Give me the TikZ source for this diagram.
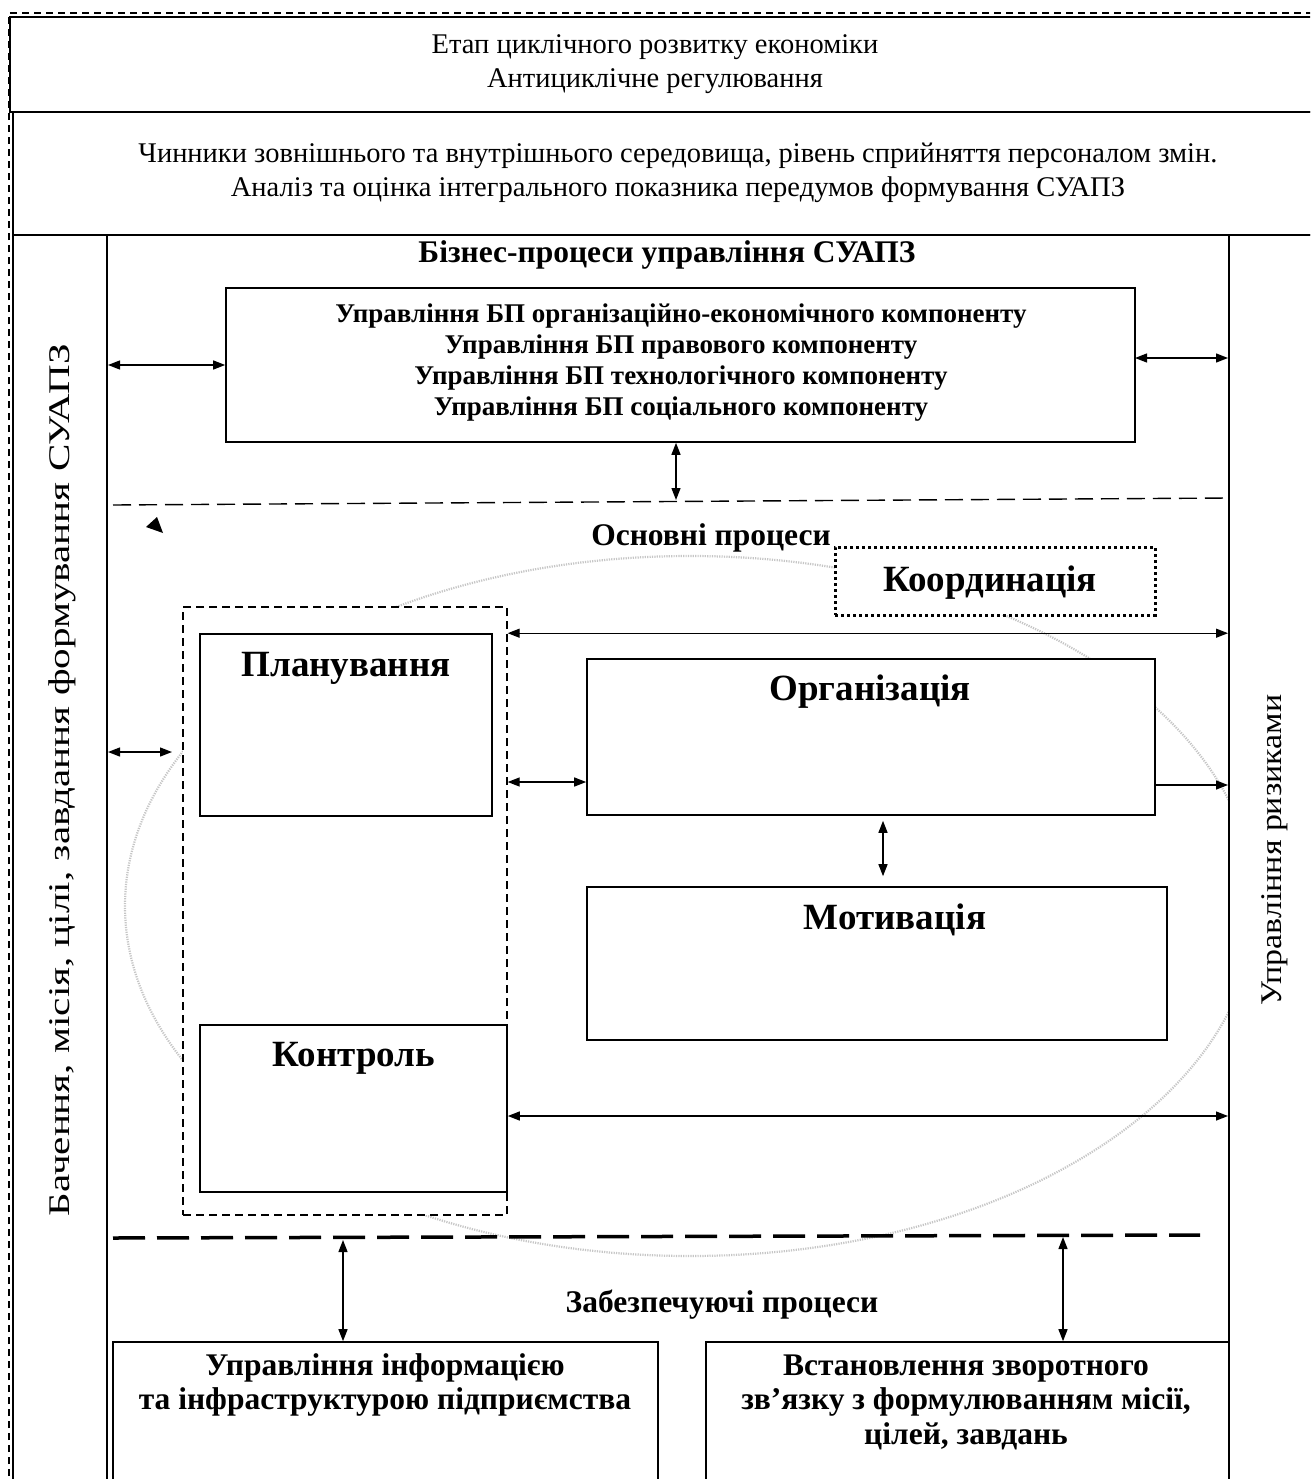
\documentclass[tikz,border=0pt]{standalone}
\usepackage{fontspec}
\setmainfont{Liberation Serif}
\usetikzlibrary{arrows.meta,calc}
\begin{document}
\begin{tikzpicture}[x=1pt,y=-1pt,
  frame/.style={draw,line width=2pt,inner sep=0pt},
  box/.style={draw,line width=1.6pt,fill=white,inner sep=0pt},
  conn/.style={line width=1.3pt,{Triangle[length=12pt,width=9pt]}-{Triangle[length=12pt,width=9pt]}},
  conn1/.style={line width=1.3pt,-{Triangle[length=12pt,width=9pt]}},
  reg/.style={font=\fontsize{28.5}{34}\selectfont,align=center,inner sep=0pt},
  head/.style={font=\bfseries\fontsize{31.5}{36}\selectfont,align=center,inner sep=0pt},
  big/.style={font=\bfseries\fontsize{37}{42}\selectfont,inner sep=0pt},
  bptext/.style={font=\bfseries\fontsize{27}{31}\selectfont,align=center,inner sep=0pt},
  bottext/.style={font=\bfseries\fontsize{31.5}{34.5}\selectfont,align=center,inner sep=0pt},
]
\useasboundingbox (0,0) rectangle (1310,1479);
\clip (0,0) rectangle (1310,1479);
\fill[white] (0,0) rectangle (1310,1479);

% outer dashed frame
\draw[line width=1.3pt,dash pattern=on 7pt off 5pt] (9,1500) -- (9,13) -- (1330,13);

% dotted ellipse (drawn first, partly hidden)
\draw[gray!45,line width=2.2pt,dash pattern=on 1.2pt off 1.2pt] (690,906) ellipse [x radius=565,y radius=350];

% top frames
\node[frame,fill=white,minimum width=1310,minimum height=95] (stagebox) at (665,64.5) {};
\node[frame,fill=white,minimum width=1307,minimum height=123] (factbox) at (666.5,173.5) {};
\node[frame,minimum width=94,minimum height=1265] (leftcol) at (60,867.5) {};
\node[frame,fill=white,minimum width=100,minimum height=1265] (rightcol) at (1279,867.5) {};

\node[reg] (stage) at (655,64) {Етап циклічного розвитку економіки\\Антициклічне регулювання};
\node[reg] (fact) at (678,173) {Чинники зовнішнього та внутрішнього середовища, рівень сприйняття персоналом змін.\\Аналіз та оцінка інтегрального показника передумов формування СУАПЗ};

\node[reg,font=\fontsize{30}{34}\selectfont,rotate=90,xscale=1.37] (vision) at (62,780) {Бачення, місія, цілі, завдання формування СУАПЗ};
\node[reg,font=\fontsize{30}{34}\selectfont,rotate=90,xscale=1.13] (risk) at (1275,850) {Управління ризиками};

% business processes
\node[head] (bphead) at (667,255) {Бізнес-процеси управління СУАПЗ};
\node[box,minimum width=909,minimum height=154] (bp) at (680.5,365) {};
\node[bptext] (bpt) at (681,363) {Управління БП організаційно-економічного компоненту\\Управління БП правового компоненту\\Управління БП технологічного компоненту\\Управління БП соціального компоненту};

\coordinate (bpR) at (1135,358);
\coordinate (bpdn) at (676,500);
\draw[conn] (leftcol.east |- bp.west) -- (bp.west);
\draw[conn] (bpR) -- (bpR -| rightcol.west);
\draw[conn] (bpdn |- bp.south) -- (bpdn);

% dashed separator
\coordinate (sepL) at (113,505);
\coordinate (sepR) at (1229,498);
\draw[line width=1.4pt,dash pattern=on 18pt off 8pt] (sepL) -- (sepR);

\node[head] (mainhead) at (711,538) {Основні процеси};
\fill (157,517) -- (146,527) -- (163,533) -- cycle;

% Coordination
\node[draw,fill=white,line width=3pt,dash pattern=on 3pt off 3pt,minimum width=320,minimum height=68,inner sep=0pt] (coord) at (995,581) {};
\node[big] at (990,583) {Координація};

% dashed group box
\node[draw,fill=white,line width=1.3pt,dash pattern=on 8pt off 5pt,minimum width=324,minimum height=608,inner sep=0pt] (pk) at (345,911) {};

\node[box,minimum width=292,minimum height=182] (plan) at (346,725) {};
\node[big] (plant) at (346,668) {Планування};
\node[box,minimum width=307,minimum height=167] (ctrl) at (353.5,1108.5) {};
\node[big] (ctrlt) at (354,1058) {Контроль};
\node[box,minimum width=568,minimum height=156] (org) at (871,737) {};
\node[big] (orgt) at (870,692) {Організація};
\node[box,minimum width=580,minimum height=153] (mot) at (877,963.5) {};
\node[big] (mott) at (895,920) {Мотивація};

\coordinate (lm) at (172,752);
\coordinate (a2) at (0,782);
\coordinate (a3) at (0,785);
\coordinate (a4) at (883,0);
\coordinate (a5) at (0,1116);
\draw[conn] (lm -| leftcol.east) -- (lm);
\draw[conn] (pk.east |- plan.north) -- (rightcol.west |- plan.north);
\draw[conn] (pk.east |- a2) -- (org.west |- a2);
\draw[conn1] (org.east |- a3) -- (rightcol.west |- a3);
\draw[conn,shorten <=5pt,shorten >=10pt] (org.south -| a4) -- (mot.north -| a4);
\draw[conn] (ctrl.east |- a5) -- (rightcol.west |- a5);

% supporting processes
\draw[line width=3.5pt,dash pattern=on 32pt off 12pt] (113,1238) -- (1200,1235);
\node[head] (supphead) at (722,1305) {Забезпечуючі процеси};

\node[box,minimum width=545,minimum height=160] (info) at (385.5,1422) {};
\node[bottext] (infot) at (385,1385) {Управління інформацією\\та інфраструктурою підприємства};
\node[box,minimum width=523,minimum height=160] (fb) at (967.5,1422) {};
\node[bottext] (fbt) at (966,1402) {Встановлення зворотного\\зв’язку з формулюванням місії,\\цілей, завдань};

\coordinate (a6) at (343,1240);
\coordinate (a7) at (1063,1237);
\draw[conn] (a6) -- (info.north -| a6);
\draw[conn] (a7) -- (fb.north -| a7);
\end{tikzpicture}
\end{document}
